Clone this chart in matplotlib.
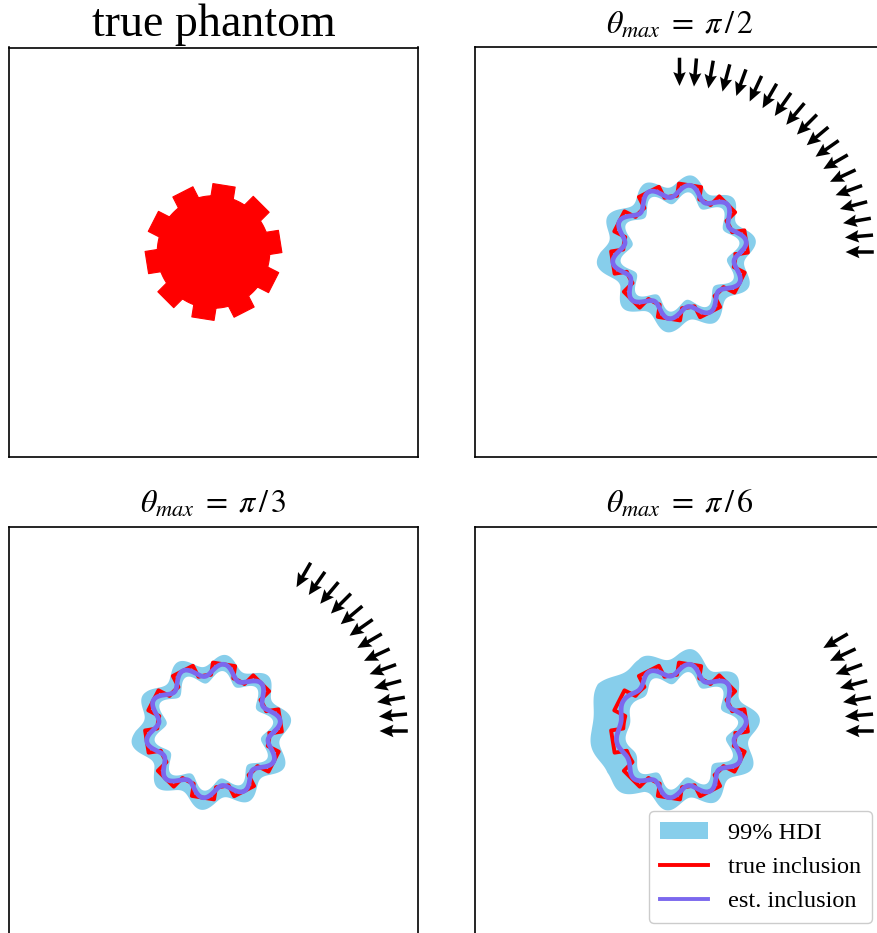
import numpy as np
import matplotlib
matplotlib.use('Agg')
import matplotlib.pyplot as plt
from matplotlib.path import Path
from matplotlib.patches import PathPatch, Patch
from matplotlib.lines import Line2D

plt.rcParams['font.family'] = ['Liberation Serif', 'DejaVu Serif']
plt.rcParams['mathtext.fontset'] = 'stix'

# gear phantom (data units, axes span [-1, 1])
n_teeth = 10
tooth_phase = 9.0          # deg, angle of first tooth
r_body = 0.275
r_tip = 0.33
tooth_half_width = 0.055

# estimated inclusion: mean radius + wave
r_est = 0.30
titles = ['true phantom', r'$\theta_{max}\;=\;\pi\,/\,2$', r'$\theta_{max}\;=\;\pi\,/\,3$',
          r'$\theta_{max}\;=\;\pi\,/\,6$']
theta_max_deg = [None, 90, 60, 30]
arrow_step = 5.0
arrow_r_tail = 0.950
arrow_r_head = 0.812

# HDI band read at 0, 30, ..., 330 deg
band_angles = np.arange(0, 360, 30)
band_out = {
    1: [0.05, 0.04, 0.045, 0.05, 0.045, 0.06, 0.085, 0.06, 0.06, 0.07, 0.055, 0.05],
    2: [0.055, 0.05, 0.05, 0.045, 0.05, 0.055, 0.08, 0.06, 0.06, 0.06, 0.055, 0.06],
    3: [0.07, 0.06, 0.06, 0.08, 0.08, 0.15, 0.13, 0.12, 0.07, 0.06, 0.06, 0.07],
}
band_in = {
    1: [0.035, 0.03, 0.035, 0.035, 0.03, 0.035, 0.04, 0.035, 0.035, 0.035, 0.03, 0.035],
    2: [0.035, 0.035, 0.03, 0.035, 0.035, 0.035, 0.04, 0.035, 0.035, 0.035, 0.035, 0.035],
    3: [0.04, 0.04, 0.035, 0.04, 0.04, 0.045, 0.045, 0.045, 0.04, 0.04, 0.04, 0.04],
}
wave_amp = {
    1: [0.03] * 12,
    2: [0.03] * 12,
    3: [0.03, 0.03, 0.03, 0.03, 0.025, 0.012, 0.01, 0.015, 0.03, 0.03, 0.03, 0.03],
}

hdi_color = '#87CEEB'
true_color = 'red'
est_color = 'mediumslateblue'


def gear_outline():
    pts = []
    phis = np.deg2rad(tooth_phase + 360.0 / n_teeth * np.arange(n_teeth))
    da = np.arcsin(tooth_half_width / r_body)
    base = np.sqrt(r_body**2 - tooth_half_width**2)
    for k, phi in enumerate(phis):
        c, s = np.cos(phi), np.sin(phi)
        for (a, b) in [(base, -tooth_half_width), (r_tip, -tooth_half_width),
                       (r_tip, tooth_half_width), (base, tooth_half_width)]:
            pts.append((a * c - b * s, a * s + b * c))
        nxt = phis[(k + 1) % n_teeth] + (2 * np.pi if k == n_teeth - 1 else 0)
        arc = np.linspace(phi + da, nxt - da, 30)
        pts += list(zip(r_body * np.cos(arc), r_body * np.sin(arc)))
    pts.append(pts[0])
    return np.array(pts)


t = np.linspace(0, 2 * np.pi, 721)
tdeg = np.rad2deg(t)


def periodic(vals):
    return np.interp(tdeg, np.append(band_angles, 360), np.append(vals, vals[0]))


fig = plt.figure(figsize=(8.77, 9.33), dpi=100)
W, H = 877.0, 933.0
boxes = [(9, 457), (475, 457), (9, 936), (475, 936)]
gear = gear_outline()

for i, (left, bottom) in enumerate(boxes):
    ax = fig.add_axes([left / W, (H - bottom) / H, 409 / W, 410 / H])
    ax.set_xlim(-1, 1)
    ax.set_ylim(-1, 1)
    ax.set_aspect('equal')
    ax.set_xticks([])
    ax.set_yticks([])
    for sp in ax.spines.values():
        sp.set_linewidth(1.2)
    if i == 0:
        ax.fill(gear[:, 0], gear[:, 1], color=true_color, lw=0.8, ec=true_color,
                joinstyle='round')
        ax.set_title(titles[i], fontsize=33, pad=8)
        continue
    ax.set_title(titles[i], fontsize=23, pad=10)

    r_e = r_est + periodic(wave_amp[i]) * np.cos(n_teeth * (t - np.deg2rad(tooth_phase)))
    r_o = r_e + periodic(band_out[i])
    r_i = r_e - periodic(band_in[i])
    outer = np.column_stack([r_o * np.cos(t), r_o * np.sin(t)])
    inner = np.column_stack([r_i * np.cos(t), r_i * np.sin(t)])[::-1]
    verts = np.vstack([outer, inner])
    codes = np.full(len(verts), Path.LINETO)
    codes[0] = Path.MOVETO
    codes[len(outer)] = Path.MOVETO
    ax.add_patch(PathPatch(Path(verts, codes), facecolor=hdi_color, edgecolor='none'))
    ax.plot(gear[:, 0], gear[:, 1], color=true_color, lw=2.8)
    ax.plot(r_e * np.cos(t), r_e * np.sin(t), color=est_color, lw=3.4)

    ang = np.deg2rad(np.arange(0, theta_max_deg[i] + 0.1, arrow_step))
    x0 = arrow_r_tail * np.cos(ang)
    y0 = arrow_r_tail * np.sin(ang)
    L = arrow_r_tail - arrow_r_head
    ax.quiver(x0, y0, -L * np.cos(ang), -L * np.sin(ang), angles='xy', scale_units='xy',
              scale=1, width=0.0085, headwidth=3.6, headlength=4.0, headaxislength=3.5,
              color='k', zorder=3)

    if i == 3:
        handles = [Patch(facecolor=hdi_color, edgecolor='none', label='99% HDI'),
                   Line2D([], [], color=true_color, lw=2.8, label='true inclusion'),
                   Line2D([], [], color=est_color, lw=2.8, label='est. inclusion')]
        ax.legend(handles=handles, loc='lower right', fontsize=17.5, handlelength=2.0,
                  handletextpad=0.8, labelspacing=0.5, borderpad=0.45,
                  edgecolor='#cccccc', framealpha=1)

fig.savefig('out.png', dpi=100)
